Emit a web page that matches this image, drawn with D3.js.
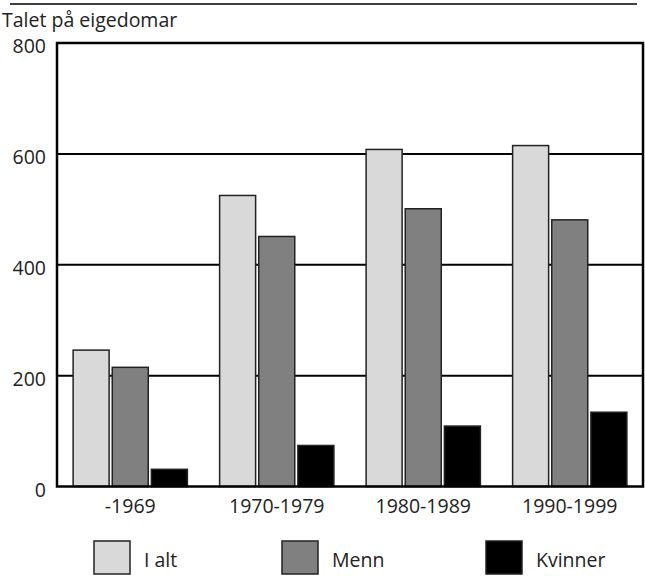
<!DOCTYPE html>
<html>
<head>
<meta charset="utf-8">
<script src="https://cdn.jsdelivr.net/npm/d3@7"></script>
<style>
  body { margin: 0; background: #fff; }
  text { font-family: "Open Sans", "Noto Sans", sans-serif; fill: #222; }
</style>
</head>
<body>
<script>
var categories = ["-1969", "1970-1979", "1980-1989", "1990-1999"];
var seriesNames = ["I alt", "Menn", "Kvinner"];
var iAlt = [246, 525, 608, 615];
var menn = [215, 451, 501, 481];
var kvinner = [31, 74, 109, 134];
var yTicks = [0, 200, 400, 600, 800];
var colors = ["#d9d9d9", "#808080", "#000000"];

var width = 645, height = 576;
var margin = {top: 43, right: 2, bottom: 90, left: 57};
var fontSize = "19.5px";

var svg = d3.select("body").append("svg")
    .attr("width", width)
    .attr("height", height);

// top rule
svg.append("line")
    .attr("x1", 10).attr("x2", 637)
    .attr("y1", 4).attr("y2", 4)
    .style("stroke", "#000").style("stroke-width", 1.5);

svg.append("text")
    .attr("x", 2).attr("y", 27)
    .style("font-size", fontSize)
    .text("Talet på eigedomar");

var x0 = d3.scaleBand()
    .domain(categories)
    .range([margin.left, width - margin.right])
    .paddingInner(0.22)
    .paddingOuter(0.11);

var x1 = d3.scaleBand()
    .domain(seriesNames)
    .range([0, x0.bandwidth()])
    .paddingInner(0.08);

var y = d3.scaleLinear()
    .domain([0, 800])
    .range([height - margin.bottom + 0.5, margin.top]);

// gridlines
svg.append("g")
    .selectAll("line")
    .data(yTicks.filter(function(d) { return d > 0 && d < 800; }))
    .enter().append("line")
    .attr("x1", margin.left).attr("x2", width - margin.right)
    .attr("y1", function(d) { return y(d); })
    .attr("y2", function(d) { return y(d); })
    .style("stroke", "#000").style("stroke-width", 2);

var table = categories.map(function(c, i) {
  return {cat: c, values: [iAlt[i], menn[i], kvinner[i]]};
});

var groups = svg.append("g").selectAll("g")
    .data(table)
    .enter().append("g")
    .attr("transform", function(d) { return "translate(" + x0(d.cat) + ",0)"; });

groups.selectAll("rect")
    .data(function(d) {
      return d.values.map(function(v, j) { return {name: seriesNames[j], value: v, j: j}; });
    })
    .enter().append("rect")
    .attr("x", function(d) { return x1(d.name); })
    .attr("y", function(d) { return y(d.value); })
    .attr("width", x1.bandwidth())
    .attr("height", function(d) { return y(0) - y(d.value); })
    .attr("fill", function(d) { return colors[d.j]; })
    .style("stroke", "#222").style("stroke-width", 1.5);

// frame
svg.append("rect")
    .attr("x", margin.left).attr("y", margin.top)
    .attr("width", width - margin.right - margin.left)
    .attr("height", y(0) - margin.top)
    .attr("fill", "none")
    .style("stroke", "#000").style("stroke-width", 2.5);

// y labels
svg.append("g").selectAll("text")
    .data(yTicks)
    .enter().append("text")
    .attr("x", 46)
    .attr("y", function(d) { return y(d) + 10; })
    .attr("text-anchor", "end")
    .style("font-size", fontSize)
    .text(function(d) { return d; });

// x labels
svg.append("g").selectAll("text")
    .data(categories)
    .enter().append("text")
    .attr("x", function(d) { return x0(d) + x0.bandwidth() / 2; })
    .attr("y", 513)
    .attr("text-anchor", "middle")
    .style("font-size", fontSize)
    .text(function(d) { return d; });

// legend
var legendX = [94, 282, 486];
var legend = svg.append("g").selectAll("g")
    .data(seriesNames)
    .enter().append("g")
    .attr("transform", function(d, i) { return "translate(" + legendX[i] + ",541)"; });

legend.append("rect")
    .attr("width", 36).attr("height", 33)
    .attr("fill", function(d, i) { return colors[i]; })
    .style("stroke", "#222").style("stroke-width", 1.5);

legend.append("text")
    .attr("x", 50).attr("y", 26)
    .style("font-size", fontSize)
    .text(function(d) { return d; });
</script>
</body>
</html>
